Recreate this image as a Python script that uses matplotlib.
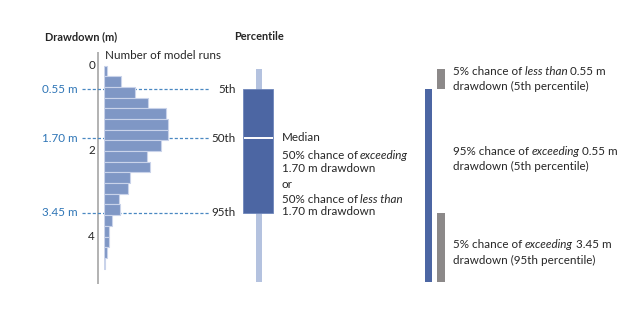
import matplotlib
matplotlib.use("Agg")
import matplotlib.pyplot as plt

plt.rcParams["font.family"] = ["Lato", "DejaVu Sans"]

# histogram of model runs per 0.25 m drawdown bin
bin_lower = [0.0, 0.25, 0.5, 0.75, 1.0, 1.25, 1.5, 1.75, 2.0, 2.25,
             2.5, 2.75, 3.0, 3.25, 3.5, 3.75, 4.0, 4.25, 4.5]
runs = [5, 32, 58, 83, 116, 121, 121, 107, 81, 87,
        49, 44, 28, 30, 14, 9, 8, 5, 2]
bin_width = 0.25

# percentiles and whisker range (m)
p5, p50, p95 = 0.55, 1.70, 3.45
whisk_lo, whisk_hi = 0.09, 5.07
depth_ticks = [0, 2, 4]

TXT = "#262626"
HIST = "#7f97c5"
BOX = "#4c66a3"
WHISK = "#b4c2df"
GREY = "#8c8989"
DASH = "#4a88c2"
LBL = "#2e75b6"
FS = 8.4      # body text
FS_H = 7.9    # bold headings
FS_N = 8.4    # axis numbers


# pixel row -> drawdown
def dd(py):
    return (py - 65.5) / 42.75


def line(x, py, pieces, size=FS, **kw):
    """Write one line made of (text, style) pieces, e.g. mixing italic."""
    if isinstance(pieces, str):
        pieces = [(pieces, "normal")]
    prev = None
    for s, style in pieces:
        if prev is None:
            prev = ax.text(x, dd(py + 4.0), s, va="baseline", fontsize=size,
                           fontstyle=style, color=TXT, **kw)
        else:
            prev = ax.annotate(s, xy=(1, 0), xycoords=prev,
                               xytext=(0.22 * size, 0),
                               textcoords="offset points", va="bottom",
                               ha="left", fontsize=size, fontstyle=style,
                               color=TXT)


fig = plt.figure(figsize=(6.42, 3.26), dpi=100)
ax = fig.add_axes([0, 0, 1, 1])
ax.set_xlim(0, 642)
ax.set_ylim(dd(326), dd(0))
ax.axis("off")

hax = fig.add_axes([104.3 / 642, 0, 100 / 642, 1])
hax.set_xlim(0, 189)
hax.set_ylim(dd(326), dd(0))
hax.axis("off")
hax.barh([b + bin_width / 2 for b in bin_lower], runs, height=bin_width,
         color=HIST, edgecolor="#c9d3ea", linewidth=0.8)

# vertical depth axis
ax.vlines(98.3, dd(51.7), whisk_hi + 0.03, color="#a6a6a6", lw=1.2)
for t in depth_ticks:
    ax.text(95, t, str(t), ha="right", va="center", fontsize=FS_N, color=TXT)

# dashed percentile guides
ax.hlines([p5, p50, p95], 81.7, 209, colors=DASH, lw=0.9,
          linestyles=(0, (2.5, 1.6)), zorder=3)
for p in [p5, p50, p95]:
    ax.text(77.3, p, f"{p:.2f} m", ha="right", va="center",
            fontsize=FS_N, color=LBL)
for p, name in zip([p5, p50, p95], ["5th", "50th", "95th"]):
    ax.text(235.5, p, name, ha="right", va="center", fontsize=FS_N, color=TXT)

# box and whisker
ax.bar(258.7, whisk_hi - whisk_lo, bottom=whisk_lo, width=5.8, color=WHISK)
ax.bar(258.3, p95 - p5, bottom=p5, width=30, color=BOX,
       edgecolor="#6f86bb", linewidth=0.6)
ax.hlines(p50, 243.5, 273.1, colors="white", lw=1.4)

# headings
line(45, 36, "Drawdown (m)", size=FS_H, ha="left", fontweight="bold")
line(259, 36, "Percentile", size=FS_H, ha="center", fontweight="bold")
line(105, 55, "Number of model runs", ha="left")

# median notes
notes = [
    (137, "Median"),
    (155, [("50% chance of", "normal"), ("exceeding", "italic")]),
    (168, "1.70 m drawdown"),
    (184, "or"),
    (199, [("50% chance of", "normal"), ("less than", "italic")]),
    (211, "1.70 m drawdown"),
]
for py, s in notes:
    line(281.5, py, s, ha="left")

# probability bars on the right
ax.bar(441.2, p5 - whisk_lo, bottom=whisk_lo, width=8, color=GREY)
ax.bar(428.8, whisk_hi - p5, bottom=p5, width=7, color=BOX)
ax.bar(441.2, whisk_hi - p95, bottom=p95, width=8, color=GREY)

right_notes = [
    (71, [("5% chance of", "normal"), ("less than", "italic"),
          ("0.55 m", "normal")]),
    (85.5, "drawdown (5th percentile)"),
    (151, [("95% chance of", "normal"), ("exceeding", "italic"),
           ("0.55 m", "normal")]),
    (166.5, "drawdown (5th percentile)"),
    (244.5, [("5% chance of", "normal"), ("exceeding", "italic"),
             ("3.45 m", "normal")]),
    (260, "drawdown (95th percentile)"),
]
for py, s in right_notes:
    line(453.3, py, s, ha="left")

fig.savefig("out.png", dpi=100)
